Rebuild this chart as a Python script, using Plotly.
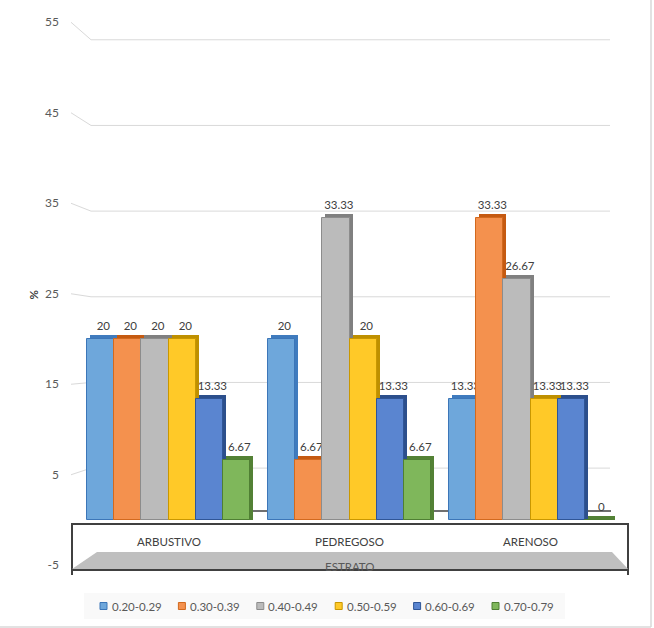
import plotly.graph_objects as go

# ---------------- data ----------------
categories = ["ARBUSTIVO", "PEDREGOSO", "ARENOSO"]
series_names = ["0.20-0.29", "0.30-0.39", "0.40-0.49", "0.50-0.59", "0.60-0.69", "0.70-0.79"]
s_020 = [20, 20, 13.33]
s_030 = [20, 6.67, 33.33]
s_040 = [20, 33.33, 26.67]
s_050 = [20, 20, 13.33]
s_060 = [13.33, 13.33, 13.33]
s_070 = [6.67, 6.67, 0]
series_values = [s_020, s_030, s_040, s_050, s_060, s_070]
y_ticks = [-5, 5, 15, 25, 35, 45, 55]
x_title = "ESTRATO"
y_title = "%"

# ---------------- styles ----------------
FONT = "Lato, Open Sans, sans-serif"
front_colors = ["#6EA7DB", "#F4914E", "#BBBBBB", "#FFC928", "#5A85D0", "#7FB75B"]
edge_colors = ["#3C76B8", "#D2691E", "#8C8C8C", "#C99700", "#2F5597", "#4F7F33"]
side_colors = ["#3F7BBE", "#C55A11", "#808080", "#BF9000", "#2C4F8C", "#538135"]

W, H = 654, 628
L, R, T, B = 78, 621, 10, 580          # plot area in px
PX_PER_X = (R - L) / 3.0               # 181 px per category
ZERO_PY = 520.0
PX_PER_Y = 9.05

def px2paper_x(px):
    return (px - L) / (R - L)

def py2paper_y(py):
    return (B - py) / (B - T)

y_range = [-(B - ZERO_PY) / PX_PER_Y, (ZERO_PY - T) / PX_PER_Y]

n = len(series_names)
slot = 27.33 / PX_PER_X
dx = 3.0 / PX_PER_X
dy = 4.0 / PX_PER_Y

fig = go.Figure()

# depth (side/top faces) first; they carry the data labels
for i, (name, vals) in enumerate(zip(series_names, series_values)):
    xs = [c + (i - (n - 1) / 2) * slot + dx for c in range(len(categories))]
    fig.add_trace(go.Bar(
        x=xs, y=[v + dy for v in vals], base=0, width=slot,
        marker=dict(color=side_colors[i], line=dict(width=0)),
        text=[f"{v:g}" for v in vals], textposition="outside",
        constraintext="none", cliponaxis=False,
        outsidetextfont=dict(size=11.5, color="#404040", family=FONT),
        showlegend=False, hoverinfo="skip",
    ))

# front faces
for i, (name, vals) in enumerate(zip(series_names, series_values)):
    xs = [c + (i - (n - 1) / 2) * slot for c in range(len(categories))]
    fig.add_trace(go.Bar(
        x=xs, y=vals, width=slot, name=name,
        marker=dict(color=front_colors[i], line=dict(color=edge_colors[i], width=1)),
        cliponaxis=False, showlegend=False,
    ))

shapes = []
# back-wall gridlines with perspective kink
for v in y_ticks:
    if v < 5:
        continue
    back_v = 1.0 + 0.9466 * v
    py_front = ZERO_PY - PX_PER_Y * v
    py_back = ZERO_PY - PX_PER_Y * back_v
    shapes.append(dict(type="line", xref="paper", yref="paper",
                       x0=px2paper_x(71), y0=py2paper_y(py_front),
                       x1=px2paper_x(91), y1=py2paper_y(py_back),
                       line=dict(color="#D9D9D9", width=1), layer="below"))
    shapes.append(dict(type="line", xref="paper", yref="paper",
                       x0=px2paper_x(91), y0=py2paper_y(py_back),
                       x1=px2paper_x(610), y1=py2paper_y(py_back),
                       line=dict(color="#D9D9D9", width=1), layer="below"))

# floor back edge
floor_py = ZERO_PY - PX_PER_Y * 1.0
shapes.append(dict(type="line", xref="paper", yref="paper",
                   x0=px2paper_x(86), y0=py2paper_y(floor_py),
                   x1=px2paper_x(611), y1=py2paper_y(floor_py),
                   line=dict(color="#404040", width=1.5), layer="below"))

# category box
shapes.append(dict(type="rect", xref="paper", yref="paper",
                   x0=px2paper_x(72), y0=py2paper_y(524),
                   x1=px2paper_x(628), y1=py2paper_y(570),
                   line=dict(color="#404040", width=2), fillcolor="white", layer="above"))
# gray floor trapezoid
path = "M {a},{b} L {c},{b} L {d},{e} L {f},{e} Z".format(
    a=px2paper_x(97), b=py2paper_y(552), c=px2paper_x(612),
    d=px2paper_x(628), e=py2paper_y(569), f=px2paper_x(72))
shapes.append(dict(type="path", xref="paper", yref="paper", path=path,
                   fillcolor="#BFBFBF", line=dict(width=0), layer="above"))
# vertical stubs below box
for px in (72, 628):
    shapes.append(dict(type="line", xref="paper", yref="paper",
                       x0=px2paper_x(px), y0=py2paper_y(570),
                       x1=px2paper_x(px), y1=py2paper_y(575),
                       line=dict(color="#404040", width=2), layer="above"))
# outer border (right and bottom)
shapes.append(dict(type="line", xref="paper", yref="paper",
                   x0=px2paper_x(651), y0=py2paper_y(0),
                   x1=px2paper_x(651), y1=py2paper_y(627),
                   line=dict(color="#D9D9D9", width=1.5)))
shapes.append(dict(type="line", xref="paper", yref="paper",
                   x0=px2paper_x(0), y0=py2paper_y(627),
                   x1=px2paper_x(651), y1=py2paper_y(627),
                   line=dict(color="#D9D9D9", width=1.5)))

# legend (custom, tight Excel-like spacing)
LEG_Y = 606
shapes.append(dict(type="rect", xref="paper", yref="paper",
                   x0=px2paper_x(84), y0=py2paper_y(593),
                   x1=px2paper_x(565), y1=py2paper_y(619),
                   line=dict(width=0), fillcolor="#F9F9F9", layer="below"))
annotations = []
for i, name in enumerate(series_names):
    sx = 100 + i * 78.4
    shapes.append(dict(type="rect", xref="paper", yref="paper",
                       x0=px2paper_x(sx), y0=py2paper_y(LEG_Y - 3.5),
                       x1=px2paper_x(sx + 7), y1=py2paper_y(LEG_Y + 3.5),
                       line=dict(color=edge_colors[i], width=1),
                       fillcolor=front_colors[i]))
    annotations.append(dict(x=px2paper_x(sx + 9.5), xref="paper", y=py2paper_y(LEG_Y),
                            yref="paper", text=name, showarrow=False,
                            xanchor="left", yanchor="middle",
                            font=dict(size=11.5, color="#595959", family=FONT)))

for c, cat in enumerate(categories):
    annotations.append(dict(x=c, xref="x", y=py2paper_y(541), yref="paper",
                            text=cat, showarrow=False, xanchor="center", yanchor="middle",
                            font=dict(size=11.5, color="#404040", family=FONT)))
annotations.append(dict(x=px2paper_x(349), xref="paper", y=py2paper_y(566), yref="paper",
                        text=x_title, showarrow=False, xanchor="center", yanchor="middle",
                        font=dict(size=11.5, color="#595959", family=FONT)))
annotations.append(dict(x=px2paper_x(32.5), xref="paper", y=py2paper_y(295), yref="paper",
                        text="<b>" + y_title + "</b>", textangle=-90, showarrow=False,
                        xanchor="center", yanchor="middle",
                        font=dict(size=11.5, color="#404040", family=FONT)))

fig.update_layout(
    width=W, height=H,
    margin=dict(l=L, r=W - R, t=T, b=H - B, pad=0, autoexpand=False),
    paper_bgcolor="white", plot_bgcolor="white",
    barmode="overlay", bargap=0,
    font=dict(family=FONT, size=12, color="#595959"),
    xaxis=dict(range=[-0.5, 2.5], showticklabels=False, showgrid=False,
               zeroline=False, showline=False, fixedrange=True, automargin=False),
    yaxis=dict(range=y_range, tickvals=y_ticks, ticktext=[str(t) for t in y_ticks],
               showgrid=False, zeroline=False, showline=False, automargin=False,
               ticks="", ticklabelstandoff=18,
               tickfont=dict(size=12, color="#595959")),
    showlegend=False,
    shapes=shapes, annotations=annotations,
)

fig.write_html("out.html", config={"displayModeBar": False},
               post_script="document.body.style.margin='0';")
